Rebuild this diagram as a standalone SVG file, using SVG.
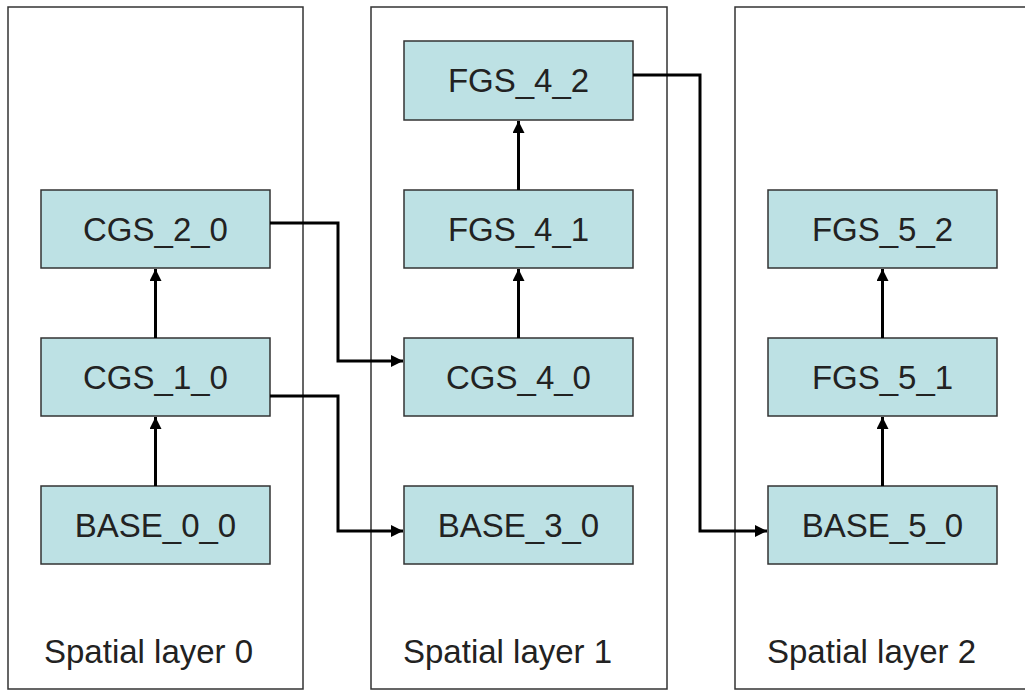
<svg xmlns="http://www.w3.org/2000/svg" width="1025" height="691" viewBox="0 0 1025 691">
<style>
.layer{fill:#fff;stroke:#333;stroke-width:1.5}
.node rect{fill:#bde1e4;stroke:#333;stroke-width:1.5}
.node text{font-family:"Liberation Sans",Arial,sans-serif;font-size:33px;fill:#222;text-anchor:middle}
.lbl{font-family:"Liberation Sans",Arial,sans-serif;font-size:33px;fill:#222}
.conn{fill:none;stroke:#000;stroke-width:3}
</style>
<defs>
<marker id="ah" viewBox="0 0 10 10" refX="10" refY="5" markerWidth="4" markerHeight="4" markerUnits="strokeWidth" orient="auto">
<path d="M0,0 L10,5 L0,10 z" fill="#000"/>
</marker>
</defs>
<rect width="1025" height="691" fill="#fff"/>
<g id="layer0"><rect class="layer" x="8" y="7" width="295" height="682"/><text class="lbl" x="44" y="663">Spatial layer 0</text></g>
<g id="layer1"><rect class="layer" x="371" y="7" width="296" height="682"/><text class="lbl" x="403" y="663">Spatial layer 1</text></g>
<g id="layer2"><rect class="layer" x="735" y="7" width="300" height="682"/><text class="lbl" x="767" y="663">Spatial layer 2</text></g>

<g id="CGS_2_0" class="node"><rect x="41" y="190" width="229" height="78"/><text x="155.5" y="241">CGS_2_0</text></g>
<g id="CGS_1_0" class="node"><rect x="41" y="338" width="229" height="78"/><text x="155.5" y="389">CGS_1_0</text></g>
<g id="BASE_0_0" class="node"><rect x="41" y="486" width="229" height="78"/><text x="155.5" y="537">BASE_0_0</text></g>

<g id="FGS_4_2" class="node"><rect x="404" y="41" width="229" height="79"/><text x="518.5" y="92">FGS_4_2</text></g>
<g id="FGS_4_1" class="node"><rect x="404" y="190" width="229" height="78"/><text x="518.5" y="241">FGS_4_1</text></g>
<g id="CGS_4_0" class="node"><rect x="404" y="338" width="229" height="78"/><text x="518.5" y="389">CGS_4_0</text></g>
<g id="BASE_3_0" class="node"><rect x="404" y="486" width="229" height="78"/><text x="518.5" y="537">BASE_3_0</text></g>

<g id="FGS_5_2" class="node"><rect x="768" y="190" width="229" height="78"/><text x="882.5" y="241">FGS_5_2</text></g>
<g id="FGS_5_1" class="node"><rect x="768" y="338" width="229" height="78"/><text x="882.5" y="389">FGS_5_1</text></g>
<g id="BASE_5_0" class="node"><rect x="768" y="486" width="229" height="78"/><text x="882.5" y="537">BASE_5_0</text></g>

<g id="connectors" class="conn">
<path d="M155.5,486 V417" marker-end="url(#ah)"/>
<path d="M155.5,338 V269" marker-end="url(#ah)"/>
<path d="M518.5,338 V269" marker-end="url(#ah)"/>
<path d="M518.5,190 V121" marker-end="url(#ah)"/>
<path d="M882.5,486 V417" marker-end="url(#ah)"/>
<path d="M882.5,338 V269" marker-end="url(#ah)"/>
<path d="M270,223 H338 V361 H403" marker-end="url(#ah)"/>
<path d="M270,396 H338 V531 H403" marker-end="url(#ah)"/>
<path d="M633,75 H700 V531 H767" marker-end="url(#ah)"/>
</g>
</svg>
